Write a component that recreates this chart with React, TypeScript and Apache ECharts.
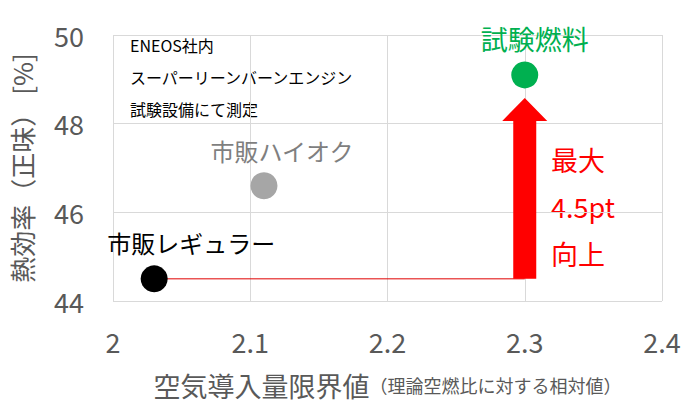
import React, { useEffect, useRef } from "react";
import * as echarts from "echarts";

const pointNames = ["市販レギュラー", "市販ハイオク", "試験燃料"];
const airRatio = [2.03, 2.11, 2.3];
const efficiency = [44.5, 46.6, 49.1];
const pointColors = ["#000000", "#a6a6a6", "#00b050"];
const labelColors = ["#000000", "#7f7f7f", "#00b050"];
const baseLine = [
  [2.03, 44.5],
  [2.3, 44.5],
];
const arrowData = [[2.3, 44.5, 48.58]];
const noteLines = ["ENEOS社内", "スーパーリーンバーンエンジン", "試験設備にて測定"];
const gainLines = ["最大", "4.5pt", "向上"];

const FONT = '"Noto Sans CJK JP", "Noto Sans", sans-serif';

export default function App() {
  const ref = useRef<HTMLDivElement>(null);
  useEffect(() => {
    document.body.style.margin = "0";
    const chart = echarts.init(ref.current!, undefined, { renderer: "svg" });
    const labelOffsets = [
      [37, -6],
      [18, -5],
      [10, -4],
    ];
    const labelSizes = [24, 24, 27];
    const scatterData = pointNames.map((n, i) => ({
      name: n,
      value: [airRatio[i], efficiency[i]],
      itemStyle: { color: pointColors[i], opacity: 1 },
      label: {
        show: true,
        position: "top",
        distance: 5,
        offset: labelOffsets[i],
        formatter: n,
        color: labelColors[i],
        fontSize: labelSizes[i],
        fontFamily: FONT,
      },
    }));
    chart.setOption({
      animation: false,
      backgroundColor: "#ffffff",
      grid: { left: 112, top: 35, right: 28, bottom: 110 },
      xAxis: {
        type: "value",
        min: 2,
        max: 2.4,
        interval: 0.1,
        axisLine: { show: false },
        axisTick: { show: false },
        splitLine: { show: true, lineStyle: { color: "#d9d9d9", width: 1 } },
        axisLabel: {
          color: "#595959",
          fontSize: 27,
          fontFamily: FONT,
          margin: 27,
          showMinLabel: true,
          showMaxLabel: true,
        },
        name: "{a|空気導入量限界値}{b|（理論空燃比に対する相対値）}",
        nameLocation: "middle",
        nameGap: 84,
        nameTextStyle: {
          verticalAlign: "middle",
          rich: {
            a: { fontSize: 27, color: "#595959", fontFamily: FONT },
            b: { fontSize: 18, color: "#595959", fontFamily: FONT },
          },
        },
      },
      yAxis: {
        type: "value",
        min: 44,
        max: 50,
        interval: 2,
        axisLine: { show: false },
        axisTick: { show: false },
        splitLine: { show: true, lineStyle: { color: "#d9d9d9", width: 1 } },
        axisLabel: {
          color: "#595959",
          fontSize: 27,
          fontFamily: FONT,
          margin: 29,
        },
        name: "熱効率（正味） [%]",
        nameLocation: "middle",
        nameGap: 92,
        nameRotate: 90,
        nameTextStyle: {
          color: "#595959",
          fontSize: 26,
          fontFamily: FONT,
          verticalAlign: "middle",
        },
      },
      series: [
        {
          type: "line",
          data: baseLine,
          symbol: "none",
          lineStyle: { color: "#e00000", width: 1 },
          z: 2,
        },
        {
          type: "custom",
          data: arrowData,
          z: 3,
          renderItem: (params: any, api: any) => {
            const x = api.value(0);
            const b = api.coord([x, api.value(1)]);
            const t = api.coord([x, api.value(2)]);
            const sw = 11.5;
            const hw = 22.5;
            const hl = 23;
            return {
              type: "polygon",
              shape: {
                points: [
                  [b[0] - sw, b[1]],
                  [b[0] + sw, b[1]],
                  [b[0] + sw, t[1] + hl],
                  [b[0] + hw, t[1] + hl],
                  [t[0], t[1]],
                  [b[0] - hw, t[1] + hl],
                  [b[0] - sw, t[1] + hl],
                ],
              },
              style: { fill: "#ff0000" },
            };
          },
        },
        {
          type: "scatter",
          symbolSize: 27,
          data: scatterData,
          z: 4,
        },
      ],
      graphic: [
        ...noteLines.map((t, i) => ({
          type: "text",
          left: 130,
          top: 37 + i * 32,
          style: { text: t, fontSize: 16, fill: "#000000", fontFamily: FONT },
        })),
        ...gainLines.map((t, i) => ({
          type: "text",
          left: 551,
          top: 146 + i * 47,
          style: { text: t, fontSize: 27, fill: "#ff0000", fontFamily: FONT },
        })),
      ],
    });
    return () => chart.dispose();
  }, []);
  return (
    <div
      ref={ref}
      style={{ position: "fixed", left: 0, top: 0, width: 690, height: 411 }}
    />
  );
}
